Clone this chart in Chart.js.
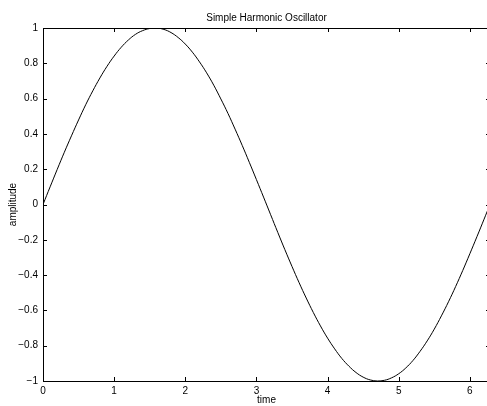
<!DOCTYPE html>
<html><head><meta charset="utf-8">
<script src="https://cdn.jsdelivr.net/npm/chart.js@4/dist/chart.umd.min.js"></script>
<style>html,body{margin:0;padding:0;background:#fff;overflow:hidden;width:487px;height:406px}canvas{display:block}</style>
</head><body>
<canvas id="c" width="492" height="406" style="width:492px;height:406px"></canvas>
<script>
const timeValues = [0,0.1,0.2,0.3,0.4,0.5,0.6,0.7,0.8,0.9,1.0,1.1,1.2,1.3,1.4,1.5,1.6,1.7,1.8,1.9,2.0,2.1,2.2,2.3,2.4,2.5,2.6,2.7,2.8,2.9,3.0,3.1,3.2,3.3,3.4,3.5,3.6,3.7,3.8,3.9,4.0,4.1,4.2,4.3,4.4,4.5,4.6,4.7,4.8,4.9,5.0,5.1,5.2,5.3,5.4,5.5,5.6,5.7,5.8,5.9,6.0,6.1,6.2,6.283];
const amplitudeValues = [0,0.100,0.199,0.296,0.389,0.479,0.565,0.644,0.717,0.783,0.841,0.891,0.932,0.964,0.985,0.997,1.000,0.992,0.974,0.946,0.909,0.863,0.808,0.746,0.676,0.598,0.516,0.427,0.335,0.239,0.141,0.042,-0.058,-0.158,-0.256,-0.351,-0.443,-0.530,-0.612,-0.688,-0.757,-0.818,-0.872,-0.916,-0.952,-0.978,-0.994,-1.000,-0.996,-0.982,-0.959,-0.926,-0.884,-0.832,-0.773,-0.706,-0.631,-0.551,-0.465,-0.374,-0.279,-0.182,-0.083,0];
const xTickValues = [0,1,2,3,4,5,6];
const yTickValues = [-1,-0.8,-0.6,-0.4,-0.2,0,0.2,0.4,0.6,0.8,1];
const chartTitle = 'Simple Harmonic Oscillator';
const xTitle = 'time';
const yTitle = 'amplitude';

const FONT = {family: '"Liberation Sans", Arial, Helvetica, sans-serif', size: 10};

const boxTicks = {
  id: 'boxTicks',
  afterDatasetsDraw(chart) {
    const {ctx, chartArea: a, scales: {x, y}} = chart;
    ctx.save();
    ctx.strokeStyle = '#000';
    ctx.lineWidth = 1;
    ctx.beginPath();
    ctx.rect(Math.round(a.left) + 0.5, Math.round(a.top) + 0.5, Math.round(a.right - a.left), Math.round(a.bottom - a.top));
    ctx.stroke();
    const L = 4;
    ctx.beginPath();
    xTickValues.forEach(v => {
      const px = Math.round(x.getPixelForValue(v)) + 0.5;
      ctx.moveTo(px, a.bottom); ctx.lineTo(px, a.bottom - L);
      ctx.moveTo(px, a.top); ctx.lineTo(px, a.top + L);
    });
    yTickValues.forEach(v => {
      const py = Math.round(y.getPixelForValue(v)) + 0.5;
      ctx.moveTo(a.left, py); ctx.lineTo(a.left + L, py);
      ctx.moveTo(a.right, py); ctx.lineTo(a.right - L, py);
    });
    ctx.stroke();
    ctx.restore();
  }
};

new Chart(document.getElementById('c'), {
  type: 'scatter',
  data: {
    datasets: [{
      data: timeValues.map((t, i) => ({x: t, y: amplitudeValues[i]})),
      showLine: true,
      borderColor: '#000',
      borderWidth: 1,
      pointRadius: 0,
      tension: 0.4,
      fill: false
    }]
  },
  options: {
    responsive: false,
    animation: false,
    devicePixelRatio: 1,
    layout: {padding: {top: 0, right: 2, bottom: 0, left: 0}},
    plugins: {
      legend: {display: false},
      tooltip: {enabled: false},
      title: {
        display: true, text: chartTitle, color: '#000', fullSize: false,
        font: {...FONT, weight: 'normal', lineHeight: 1.2},
        padding: {top: 12, bottom: 4}
      }
    },
    scales: {
      x: {
        type: 'linear', min: 0, max: 6.2832,
        afterFit(s) { s.height = 25; },
        grid: {display: false, drawTicks: false},
        border: {display: false},
        ticks: {stepSize: 1, includeBounds: false, color: '#000', font: FONT, padding: 4, maxRotation: 0,
          callback: v => String(v).replace('-', '\u2212')},
        title: {display: true, text: xTitle, color: '#000', font: {...FONT, lineHeight: 1.2}, padding: {top: 0, bottom: 0}}
      },
      y: {
        type: 'linear', min: -1, max: 1,
        afterFit(s) { s.width = 43; },
        grid: {display: false, drawTicks: false},
        border: {display: false},
        ticks: {stepSize: 0.2, color: '#000', font: FONT, padding: 5,
          callback: v => String(Math.round(v * 10) / 10).replace('-', '\u2212')},
        title: {display: true, text: yTitle, color: '#000', font: {...FONT, lineHeight: 1.2}, padding: {top: 7, bottom: 0}}
      }
    }
  },
  plugins: [boxTicks]
});
</script>
</body></html>
